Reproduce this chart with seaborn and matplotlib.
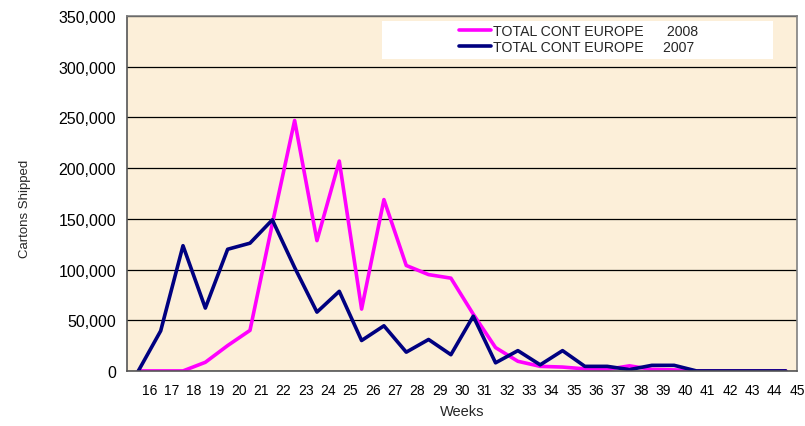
import numpy as np
import pandas as pd
import matplotlib
matplotlib.use("Agg")
import matplotlib.pyplot as plt
import seaborn as sns
from matplotlib.ticker import FuncFormatter
from matplotlib.patches import Rectangle

# weekly cartons shipped, weeks 16..45
weeks = list(range(16, 46))
europe_2008 = [0, 0, 0, 8500, 25000, 40000, 145000, 247000, 128500, 207000,
               61000, 169000, 104000, 95000, 91500, 56000, 23000, 9500, 4500, 3800,
               2000, 1500, 5000, 1500, 1000, 0, 0, 0, 0, 0]
europe_2007 = [0, 39500, 123500, 62000, 120000, 126000, 149000, 102000, 58000, 78500,
               30000, 44500, 18500, 31000, 16000, 54000, 8000, 20000, 6000, 20000,
               4500, 4500, 1300, 5500, 5500, 0, 0, 0, 0, 0]
label_2008 = "TOTAL CONT EUROPE      2008"
label_2007 = "TOTAL CONT EUROPE     2007"

df = pd.DataFrame({
    "pos": [w - 0.5 for w in weeks] * 2,
    "cartons": europe_2008 + europe_2007,
    "series": [label_2008] * len(weeks) + [label_2007] * len(weeks),
})

sns.set_style("white")
plt.rcParams["font.family"] = ["Liberation Sans", "DejaVu Sans"]

fig = plt.figure(figsize=(8.05, 4.27), dpi=100)
ax = fig.add_axes([0.158, 0.129, 0.832, 0.831])
ax.set_facecolor("#FCEFD9")

sns.lineplot(data=df, x="pos", y="cartons", hue="series",
             palette={label_2008: "#FF00FF", label_2007: "#000080"},
             linewidth=2.6, ax=ax)

ax.set_xlim(15, 45)
ax.set_ylim(0, 350000)
ax.set_xticks(weeks)
ax.set_xticklabels([str(w) for w in weeks])
ax.set_yticks(np.arange(0, 350001, 50000))
ax.yaxis.set_major_formatter(FuncFormatter(lambda v, p: f"{int(v):,}"))
ax.tick_params(axis="both", colors="#000000", direction="out")
ax.tick_params(axis="x", length=4, width=1, color="#555555", labelsize=10, pad=5)
ax.tick_params(axis="y", length=5, width=1, color="#555555", labelsize=11.5, pad=3)
ax.grid(axis="y", color="black", linewidth=0.9)
for s in ax.spines.values():
    s.set_color("#808080")
    s.set_linewidth(1.2)
ax.spines["left"].set_color("#555555")
ax.spines["bottom"].set_color("#555555")

ax.set_xlabel("Weeks", fontsize=10.5, labelpad=5)
ax.set_ylabel("Cartons Shipped", fontsize=9.5)
ax.yaxis.set_label_coords(-0.143, 0.46)

# white legend box
ax.add_patch(Rectangle((0.381, 0.879), 0.583, 0.107, transform=ax.transAxes,
                       facecolor="white", edgecolor="none", zorder=4))
leg = ax.legend(loc="upper left", bbox_to_anchor=(0.496, 0.979), frameon=False,
                fontsize=10.2, handlelength=2.2, handletextpad=0.2,
                borderpad=0.0, borderaxespad=0.0, labelspacing=0.2)
leg.set_zorder(5)

fig.savefig("out.png", dpi=100)
